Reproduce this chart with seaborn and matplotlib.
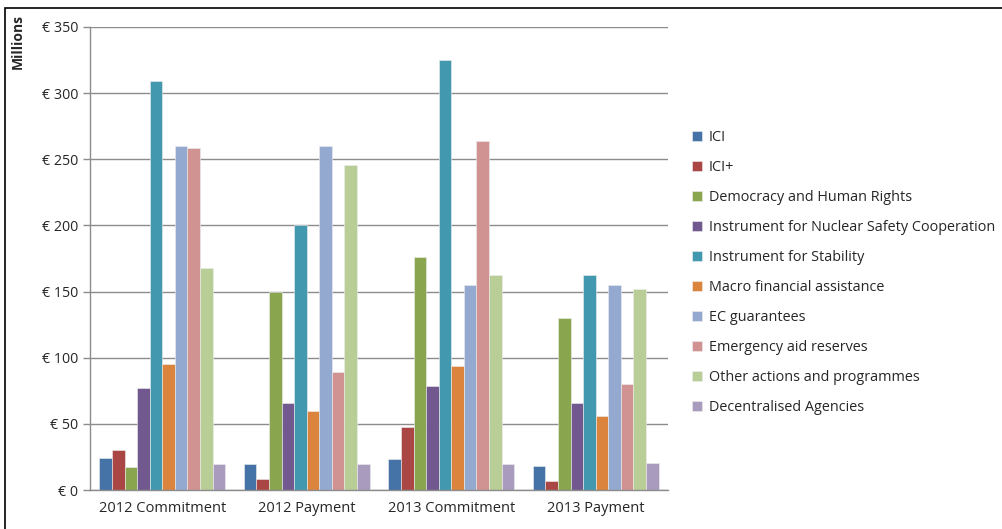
import matplotlib
matplotlib.use("Agg")
import matplotlib.pyplot as plt
from matplotlib.patches import Rectangle
from matplotlib.ticker import FixedLocator
import seaborn as sns
import pandas as pd

categories = ["2012 Commitment", "2012 Payment", "2013 Commitment", "2013 Payment"]
series_names = [
    "ICI", "ICI+", "Democracy and Human Rights",
    "Instrument for Nuclear Safety Cooperation", "Instrument for Stability",
    "Macro financial assistance", "EC guarantees", "Emergency aid reserves",
    "Other actions and programmes", "Decentralised Agencies",
]
ici = [24, 20, 23.7, 18]
ici_plus = [30.3, 8, 47.6, 7]
democracy = [17.3, 149.6, 176.5, 129.7]
nuclear = [77, 66, 78.6, 65.6]
stability = [309, 200, 325, 162.8]
macro = [95, 60, 94.1, 56.2]
ec_guarantees = [260, 260, 155.2, 155.2]
emergency = [258.7, 89.5, 263.5, 80.1]
other = [168, 246, 162.3, 151.6]
agencies = [19.8, 20, 20, 20.4]
y_ticks = [0, 50, 100, 150, 200, 250, 300, 350]
y_tick_labels = ["€ 0", "€ 50", "€ 100", "€ 150", "€ 200", "€ 250", "€ 300", "€ 350"]

colors = ["#4573A7", "#AA4643", "#89A54E", "#71588F", "#4198AF",
          "#DB843D", "#93A9CF", "#D19392", "#B9CD96", "#A99BBD"]

all_series = [ici, ici_plus, democracy, nuclear, stability, macro,
              ec_guarantees, emergency, other, agencies]
rows = []
for name, vals in zip(series_names, all_series):
    for cat, v in zip(categories, vals):
        rows.append({"category": cat, "series": name, "value": v})
df = pd.DataFrame(rows)

sns.set_theme(style="white")
plt.rcParams["font.family"] = ["Open Sans", "DejaVu Sans"]

fig = plt.figure(figsize=(10.03, 5.29), dpi=100)
ax = fig.add_axes([90 / 1003, 1 - 490 / 529, (668 - 90) / 1003, (490 - 27) / 529])

sns.barplot(data=df, x="category", y="value", hue="series", order=categories,
            hue_order=series_names, palette=colors, width=0.87, gap=0,
            saturation=1, edgecolor="#EEEEEE", linewidth=0.4, ax=ax, legend=True)

ax.set_ylim(0, 350)
ax.set_xlim(-0.5, 3.5)
ax.set_yticks(y_ticks)
ax.set_yticklabels(y_tick_labels, fontsize=10.3)
ax.yaxis.grid(True, color="#8C8C8C", linewidth=1)
ax.set_axisbelow(True)
ax.set_xlabel("")
ax.set_ylabel("")
for s in ["top", "right"]:
    ax.spines[s].set_visible(False)
for s in ["left", "bottom"]:
    ax.spines[s].set_color("#8C8C8C")
    ax.spines[s].set_linewidth(1)
ax.tick_params(axis="x", which="major", length=0, labelsize=10.5, pad=8)
ax.xaxis.set_minor_locator(FixedLocator([-0.5, 0.5, 1.5, 2.5, 3.5]))
ax.tick_params(axis="x", which="minor", length=5, color="#8C8C8C", width=1, direction="out")
ax.tick_params(axis="y", which="major", length=5, color="#8C8C8C", width=1, direction="out", left=True)

fig.text(18 / 1003, 1 - 14 / 529, "Millions", rotation=90, fontsize=10,
         fontweight="bold", ha="center", va="top")

handles, labels = ax.get_legend_handles_labels()
ax.legend(handles, labels, loc="upper left", bbox_to_anchor=(686 / 1003, 1 - 124 / 529),
          bbox_transform=fig.transFigure, frameon=False, fontsize=10.4,
          handlelength=0.7, handleheight=0.7, handletextpad=0.5, labelspacing=1.04,
          borderaxespad=0)

fig.patches.append(Rectangle((5 / 1003, -0.05), 1.0, 1 - 8 / 529 + 0.05,
                             transform=fig.transFigure, fill=False,
                             edgecolor="black", linewidth=1.2, zorder=10))

fig.savefig("out.png", dpi=100)
